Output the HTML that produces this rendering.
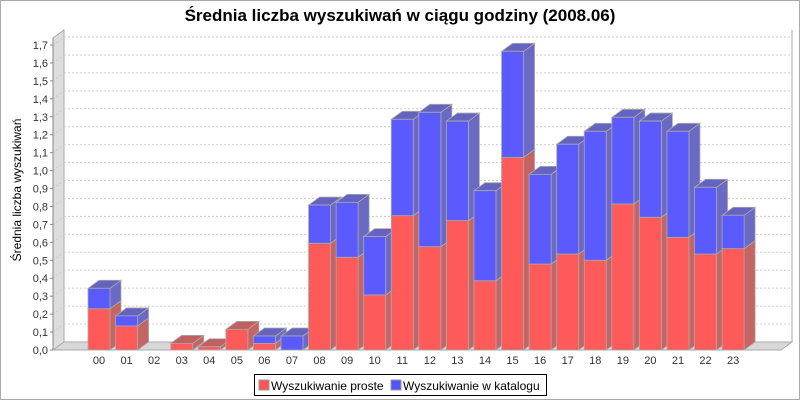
<!DOCTYPE html>
<html><head><meta charset="utf-8">
<style>
html,body{margin:0;padding:0;background:#fff;}
svg{display:block;font-family:"Liberation Sans",sans-serif;}
</style></head>
<body>
<svg id="chart" width="800" height="400" viewBox="0 0 800 400">
<rect x="0.5" y="0.5" width="799" height="399" fill="#fff" stroke="#aaa"/>
<text x="400" y="21" text-anchor="middle" font-size="17" font-weight="bold" fill="#000">Średnia liczba wyszukiwań w ciągu godziny (2008.06)</text>
<text transform="translate(21,190) rotate(-90)" text-anchor="middle" font-size="12" fill="#000">Średnia liczba wyszukiwań</text>
<g id="plot"></g>
<g>
<rect x="254.5" y="374.5" width="292" height="21" fill="#fff" stroke="#000"/>
<rect x="259" y="380" width="10" height="10" fill="#ff5555" stroke="#999"/>
<text x="271" y="390" font-size="12">Wyszukiwanie proste</text>
<rect x="391" y="380" width="10" height="10" fill="#5555ff" stroke="#999"/>
<text x="403" y="390" font-size="12">Wyszukiwanie w katalogu</text>
</g>
</svg>
<script>
const categories = ["00","01","02","03","04","05","06","07","08","09","10","11","12","13","14","15","16","17","18","19","20","21","22","23"];
const proste = [0.23,0.134,0,0.037,0.018,0.115,0.037,0,0.595,0.517,0.307,0.749,0.576,0.721,0.386,1.074,0.479,0.535,0.5,0.814,0.74,0.628,0.535,0.565];
const katalog = [0.114,0.056,0,0,0,0,0.041,0.078,0.213,0.306,0.325,0.537,0.749,0.555,0.502,0.591,0.5,0.612,0.719,0.483,0.536,0.591,0.372,0.186];
const yTicks = [0,0.1,0.2,0.3,0.4,0.5,0.6,0.7,0.8,0.9,1.0,1.1,1.2,1.3,1.4,1.5,1.6,1.7];

const NS="http://www.w3.org/2000/svg";
const plot=document.getElementById('plot');
const X0=53, Y0=350, DX=11, DY=8, XR=781, TOP=30;
const yScale=v=>Y0-v*179.4;
const xScale=i=>88+i*27.57;
const BW=22;
function mk(tag,attrs,parent){const e=document.createElementNS(NS,tag);for(const k in attrs)e.setAttribute(k,attrs[k]);(parent||plot).appendChild(e);return e;}

// walls
let w=mk('polygon',{points:`${X0},${Y0} ${X0+DX},${Y0-DY} ${X0+DX},${TOP} ${X0},${TOP+DY}`,fill:'#dddddd',stroke:'#aaa'});


let f=mk('polygon',{points:`${X0},${Y0} ${X0+DX},${Y0-DY} ${XR+DX},${Y0-DY} ${XR},${Y0}`,fill:'#d8d8d8',stroke:'#aaa'});


let rl=mk('line',{x1:XR+DX,y1:Y0-DY,x2:XR+DX,y2:TOP,stroke:'#aaa'});



// grid + ticks
yTicks.forEach(t=>{
  const y=yScale(t);
  if(t>0){const g=mk('line',{x1:X0+DX,y1:y-DY,x2:XR+DX,y2:y-DY,stroke:'#cccccc','stroke-dasharray':'2,2'});
  
  
  const d=mk('line',{x1:X0,y1:y,x2:X0+DX,y2:y-DY,stroke:'#cccccc','stroke-dasharray':'2,2'});
  
  }
  const tk=mk('line',{x1:X0-3,y1:y,x2:X0,y2:y,stroke:'#888'});
  
  
  const tx=mk('text',{x:X0-5,y:y+4,'text-anchor':'end','font-size':'11',fill:'#333'});
  tx.textContent=t.toFixed(1).replace('.',',');
  
  
});
let ya=mk('line',{x1:X0,y1:TOP+DY,x2:X0,y2:Y0,stroke:'#888'});



function box(x,y0,y1,front,side,top,name){
  const g=mk('g',{});
  
  
  mk('polygon',{points:`${x+BW},${y1} ${x+BW+DX},${y1-DY} ${x+BW+DX},${y0-DY} ${x+BW},${y0}`,fill:side,stroke:'#aaa','stroke-width':0.8},g);
  mk('polygon',{points:`${x},${y1} ${x+DX},${y1-DY} ${x+BW+DX},${y1-DY} ${x+BW},${y1}`,fill:top,stroke:'#aaa','stroke-width':0.8},g);
  mk('rect',{x:x,y:y1,width:BW,height:y0-y1,fill:front,stroke:'#aaa','stroke-width':0.8},g);
}
categories.forEach((c,i)=>{
  const x=xScale(i);
  const r=proste[i], b=katalog[i];
  if(r>0) box(x,yScale(0),yScale(r),'#ff5a5a','#c46464','#c06060','bar-proste-'+c);
  if(b>0) box(x,yScale(r),yScale(r+b),'#5a5aff','#6a6ac4','#6464c0','bar-katalog-'+c);
  const l=mk('text',{x:x+BW/2,y:364,'text-anchor':'middle','font-size':'11',fill:'#333'});
  l.textContent=c;
  
  
});
</script>
</body></html>
